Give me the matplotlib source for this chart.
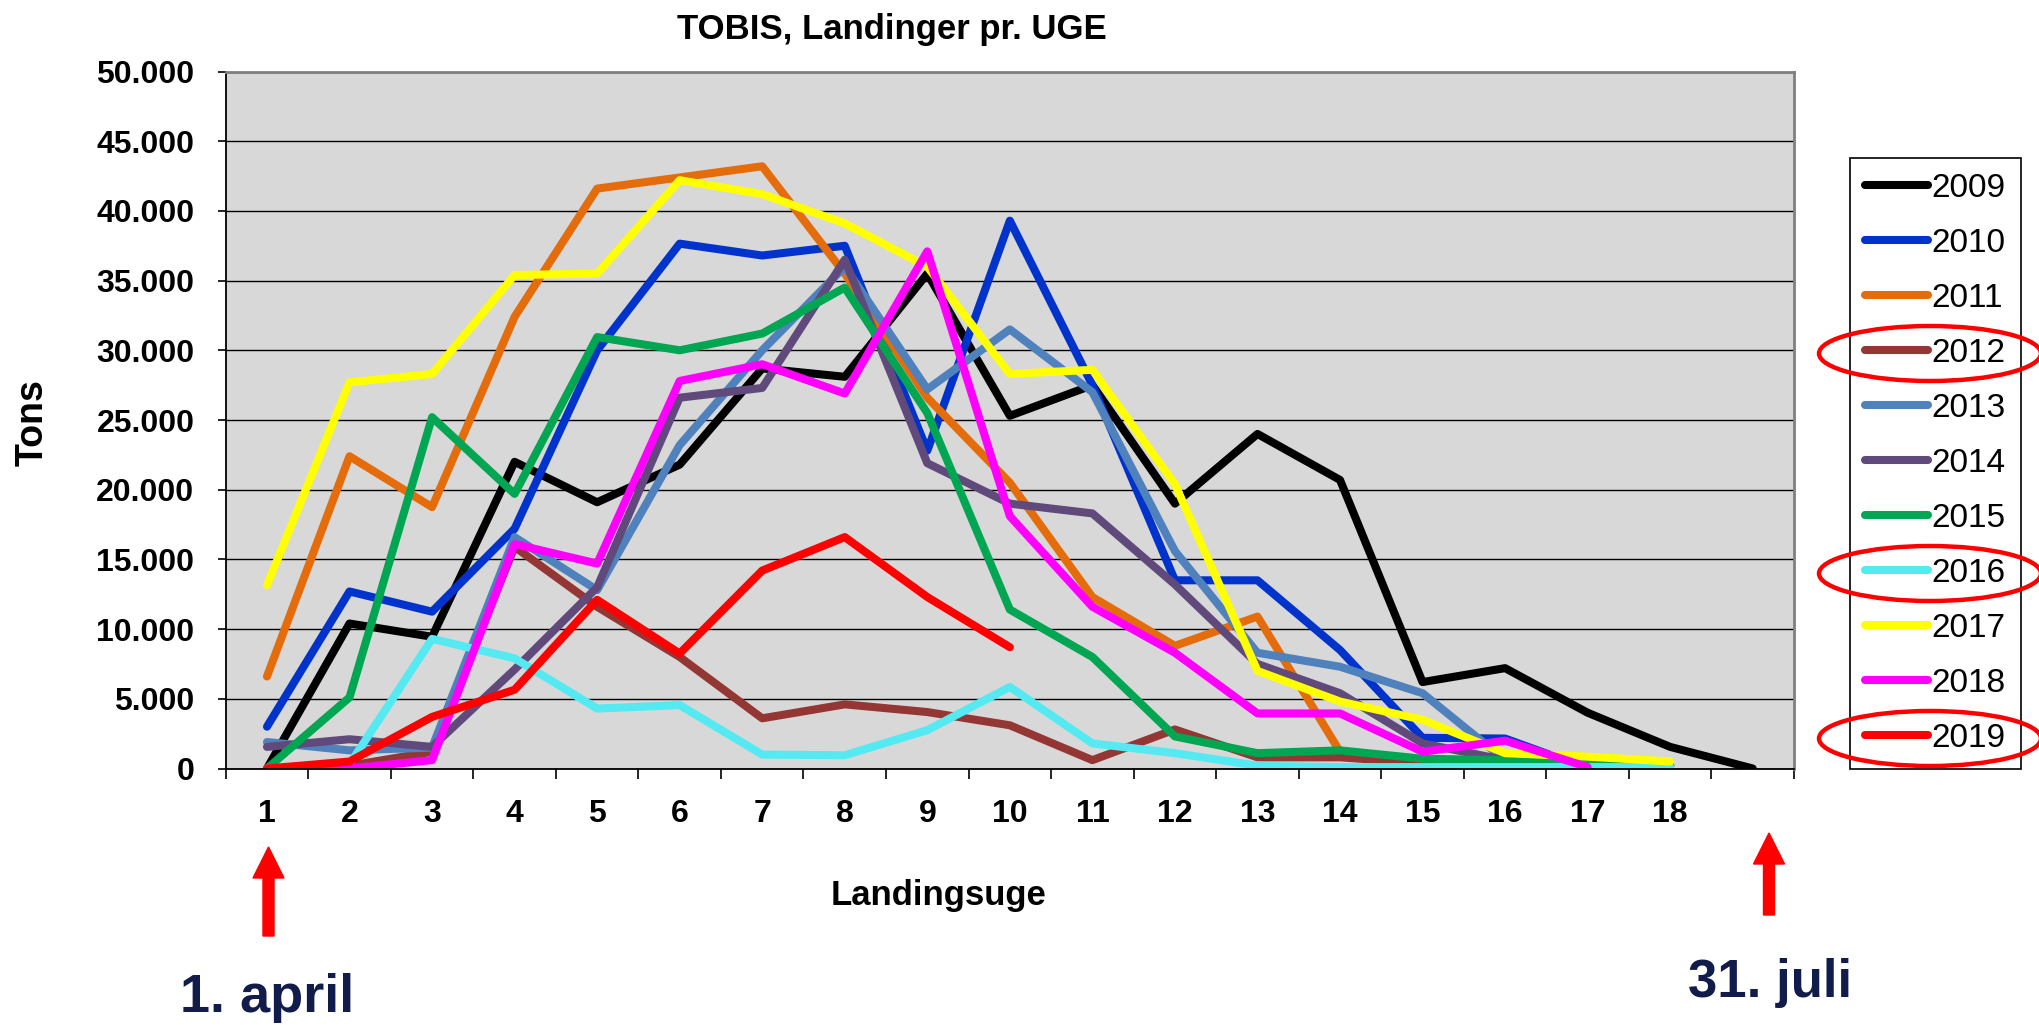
import numpy as np
import matplotlib
matplotlib.use("Agg")
import matplotlib.pyplot as plt
from matplotlib.ticker import FuncFormatter, FixedLocator
from matplotlib.patches import Ellipse, FancyArrow
from matplotlib.transforms import IdentityTransform

plt.rcParams['font.family'] = ['Liberation Sans', 'DejaVu Sans']

nan = np.nan
weeks = np.arange(1, 20)
week_labels = [str(w) for w in range(1, 19)]
years = ['2009', '2010', '2011', '2012', '2013', '2014',
         '2015', '2016', '2017', '2018', '2019']
colors = ['#000000', '#0033cc', '#e46c0a', '#943634', '#4f81bd', '#604a7b',
          '#00a651', '#55eaf2', '#ffff00', '#ff00ff', '#ff0000']

y2009 = [0, 10400, 9450, 22000, 19100, 21800, 28700, 28100, 35500, 25300,
         27500, 19000, 24000, 20700, 6200, 7200, 4000, 1550, 0]
y2010 = [3000, 12700, 11250, 17200, 30000, 37650, 36800, 37500, 22800, 39300,
         27500, 13500, 13500, 8500, 2200, 2150, 0, nan, nan]
y2011 = [6600, 22400, 18750, 32400, 41600, 42400, 43200, 35500, 26600, 20500,
         12300, 8800, 10900, 1200, 500, 400, 300, 200, nan]
y2012 = [0, 200, 1200, 15900, 11600, 8000, 3600, 4600, 4050, 3100,
         600, 2800, 800, 800, 400, 400, 300, 200, nan]
y2013 = [1900, 1300, 1500, 16600, 12800, 23200, 30000, 36000, 27200, 31500,
         27000, 15600, 8300, 7300, 5400, 600, 300, 200, nan]
y2014 = [1550, 2100, 1550, 7100, 13000, 26600, 27300, 36500, 21900, 19000,
         18300, 13200, 7500, 5400, 1800, 600, 200, nan, nan]
y2015 = [0, 5100, 25200, 19700, 30950, 30000, 31200, 34500, 25500, 11400,
         8000, 2300, 1100, 1300, 700, 600, 300, 200, nan]
y2016 = [0, 300, 9300, 7900, 4300, 4550, 1000, 950, 2750, 5850,
         1800, 1100, 200, 100, 100, 100, 100, 100, nan]
y2017 = [13150, 27700, 28300, 35400, 35500, 42200, 41200, 39100, 36000, 28300,
         28600, 20400, 7000, 4800, 3500, 1100, 850, 500, nan]
y2018 = [0, 0, 600, 16100, 14700, 27800, 29000, 26900, 37100, 18100,
         11600, 8300, 3950, 3950, 1200, 2000, 100, nan, nan]
y2019 = [0, 500, 3700, 5650, 12100, 8250, 14200, 16600, 12300, 8700,
         nan, nan, nan, nan, nan, nan, nan, nan, nan]
series = [y2009, y2010, y2011, y2012, y2013, y2014,
          y2015, y2016, y2017, y2018, y2019]
circled = ['2012', '2016', '2019']

W, H = 2040, 1025
fig = plt.figure(figsize=(W / 100, H / 100), dpi=100)
ax = fig.add_axes([225.7 / W, 1 - 768.5 / H, (1794 - 225.7) / W, (768.5 - 71.5) / H])
ax.set_facecolor('#d8d8d8')

for yr, vals, c in zip(years, series, colors):
    ax.plot(weeks, vals, color=c, lw=5.8, label=yr,
            solid_joinstyle='round', solid_capstyle='round')

ax.set_xlim(0.5, 19.5)
ax.set_ylim(0, 50000)
ax.set_yticks(np.arange(0, 50001, 5000))
ax.yaxis.set_major_formatter(FuncFormatter(lambda v, p: f"{int(v):,}".replace(",", ".")))
ax.grid(axis='y', color='black', lw=1.0)
ax.set_axisbelow(True)

ax.xaxis.set_major_locator(FixedLocator(np.arange(0.5, 19.6, 1)))
ax.xaxis.set_minor_locator(FixedLocator(np.arange(1, 19)))
ax.set_xticklabels([], minor=False)
ax.set_xticklabels(week_labels, minor=True)
ax.tick_params(axis='x', which='major', direction='out', length=7, width=1.2, color='black')
ax.tick_params(axis='x', which='minor', length=0, pad=22, labelsize=23)
ax.tick_params(axis='y', direction='out', length=5.5, width=1.2, pad=17, labelsize=23)
for lab in ax.get_xticklabels(minor=True) + ax.get_yticklabels():
    lab.set_fontweight('bold')

for s in ['left', 'bottom']:
    ax.spines[s].set_color('black')
    ax.spines[s].set_linewidth(1.3)
for s in ['top', 'right']:
    ax.spines[s].set_color('#808080')
    ax.spines[s].set_linewidth(2)

fig.text(892 / W, 1 - 29 / H, 'TOBIS, Landinger pr. UGE', ha='center', va='center',
         fontsize=25, fontweight='bold')
fig.text(33 / W, 1 - 423 / H, 'Tons', rotation=90, ha='center', va='center',
         fontsize=27, fontweight='bold')
fig.text(939 / W, 1 - 895 / H, 'Landingsuge', ha='center', va='center',
         fontsize=25, fontweight='bold')

leg = fig.legend(loc='upper left', bbox_to_anchor=(1850 / W, 1 - 158 / H),
                 borderaxespad=0, fontsize=24, frameon=True, fancybox=False,
                 edgecolor='black', framealpha=1, handlelength=1.9,
                 handletextpad=0.1, labelspacing=0.72, borderpad=0.45)
leg.get_frame().set_linewidth(1.2)

# red arrows and date notes
navy = '#111c4a'
fig.add_artist(FancyArrow(268.5, H - 936, 0, 936 - 847, width=11, head_width=31,
                          head_length=31, length_includes_head=True, color='#ff0000',
                          transform=IdentityTransform()))
fig.add_artist(FancyArrow(1769, H - 915, 0, 915 - 833, width=11, head_width=31,
                          head_length=31, length_includes_head=True, color='#ff0000',
                          transform=IdentityTransform()))
fig.text(267 / W, 13 / H, '1. april', ha='center', va='baseline', fontsize=39,
         fontweight='bold', color=navy)
fig.text(1770 / W, 28 / H, '31. juli', ha='center', va='baseline', fontsize=38,
         fontweight='bold', color=navy)

# ellipses round selected legend entries
fig.canvas.draw()
inv = fig.transFigure.inverted()
for txt in leg.get_texts():
    if txt.get_text() in circled:
        bb = txt.get_window_extent()
        cy = inv.transform((0, (bb.y0 + bb.y1) / 2))[1]
        fig.add_artist(Ellipse((1930 / W, cy), 222 / W, 55 / H, fill=False,
                               edgecolor='#ff0000', lw=3.2, zorder=20,
                               transform=fig.transFigure))

fig.savefig('out.png', dpi=100)
